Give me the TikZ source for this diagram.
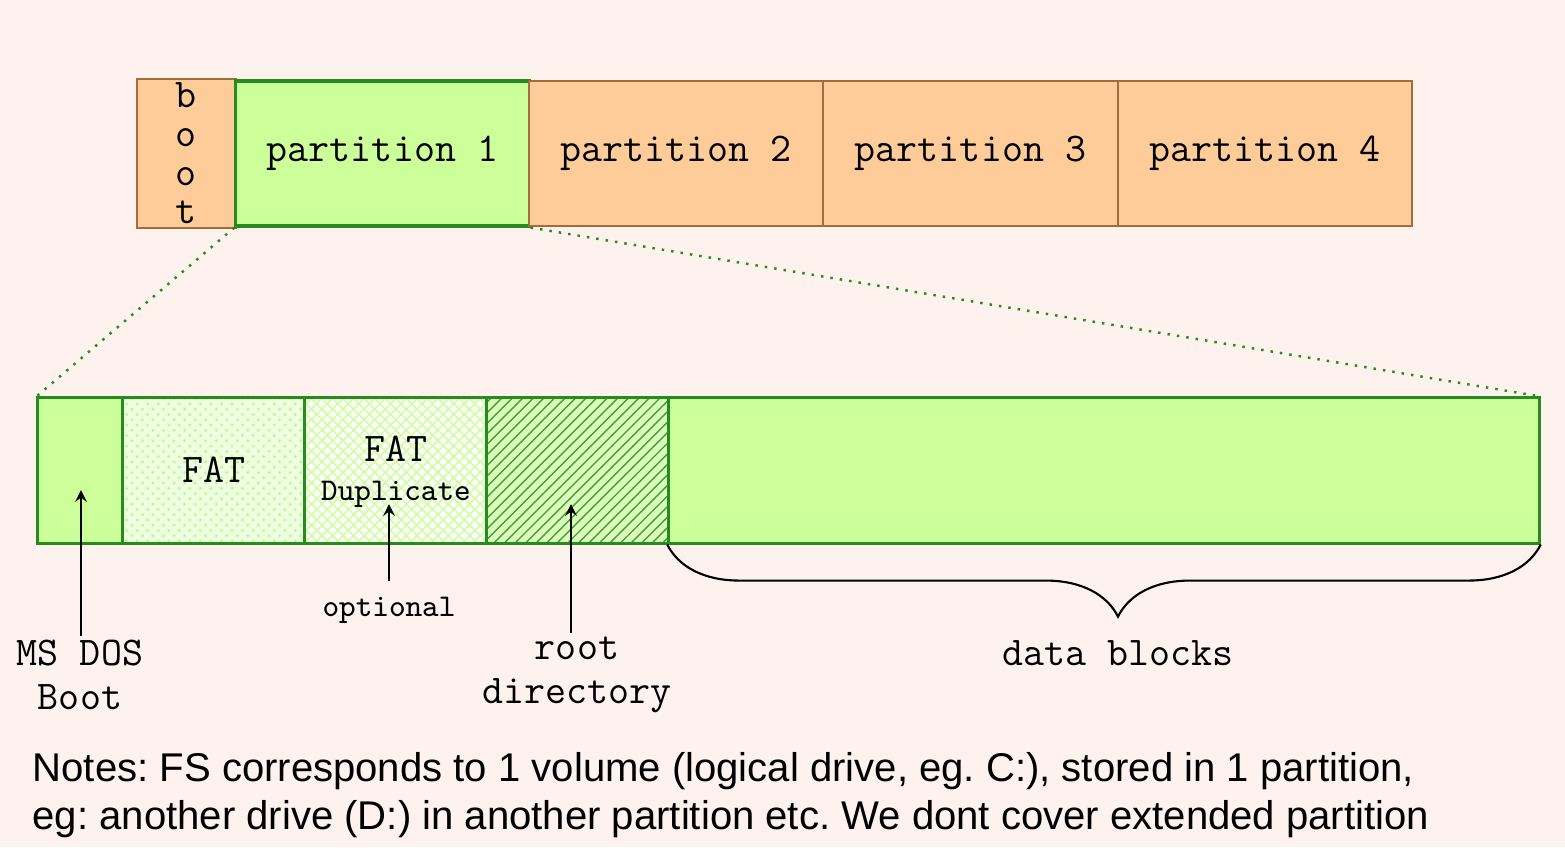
\documentclass[tikz,border=0pt]{standalone}
\usepackage{fontspec}
\setmainfont{Liberation Sans}
\usepackage{tikz}
\usetikzlibrary{arrows,patterns,decorations.pathreplacing}
\frenchspacing
\definecolor{bgpink}{RGB}{253,242,237}
\definecolor{partorange}{RGB}{254,204,153}
\definecolor{partbrown}{RGB}{160,110,62}
\definecolor{fsgreen}{RGB}{204,255,153}
\definecolor{fsdark}{RGB}{38,140,30}
\definecolor{fspale}{RGB}{240,255,228}
\tikzset{
every node/.style={font=\ttfamily\fontsize{11.6}{13}\selectfont, inner sep=1pt},
part/.style={rectangle, draw=partbrown, fill=partorange, line width=0.6pt, minimum height=1.45cm},
curpart/.style={part, draw=fsdark, fill=fsgreen, line width=0.9pt},
fsbox/.style={rectangle, draw=fsdark, fill=fsgreen, line width=0.85pt, minimum height=1.45cm},
lbl/.style={align=center, font=\ttfamily\fontsize{11.6}{12.5}\selectfont}
}

\begin{document}
\begin{tikzpicture}[x=0.01cm,y=-0.01cm]
\fill[bgpink] (0,0) rectangle (1565,847);

% disk with its partitions
\node [part, minimum width=0.99cm, align=center, font=\ttfamily\fontsize{11.6}{11}\selectfont] (boot) at (186.5,153.5) {b\\o\\o\\t};
\node [curpart, minimum width=2.93cm] (part1) at (382.5,153.5) {partition 1};
\node [part, minimum width=2.94cm] (part2) at (676,153.5) {partition 2};
\node [part, minimum width=2.95cm] (part3) at (970.5,153.5) {partition 3};
\node [part, minimum width=2.94cm] (part4) at (1265,153.5) {partition 4};

% file system inside partition 1
\node [fsbox, minimum width=0.85cm] (mbr) at (80.5,470.5) {};
\node [fsbox, minimum width=1.82cm, preaction={fill=fspale}, fill=none,
  pattern=crosshatch dots, pattern color=fsgreen!90!green] (fat) at (214,470.5) {};
\node [fsbox, minimum width=1.82cm, preaction={fill=white}, fill=none,
  pattern=crosshatch, pattern color=fsgreen] (fatdup) at (396,470.5) {};
\node [fsbox, minimum width=1.82cm, preaction={fill=fsgreen!70!white}, fill=none,
  pattern=north east lines, pattern color=fsdark!85] (rootdir) at (578,470.5) {};
\node [fsbox, minimum width=8.70cm] (data) at (1104,470.5) {};
\node (fatlbl) at (214,470) {FAT};
\node [align=center] (duplbl) at (396,472) {FAT\\[-2pt]{\fontsize{9}{10}\selectfont Duplicate}};

% zoom lines
\draw[fsdark, dotted, line width=0.7pt] (part1.south west) -- (mbr.north west);
\draw[fsdark, dotted, line width=0.7pt] (part1.south east) -- (data.north east);

% labels
\node [lbl] (msdos) at (80,675) {MS DOS\\Boot};
\node [lbl, font=\ttfamily\fontsize{9}{10}\selectfont] (optional) at (389,610) {optional};
\node [lbl] (rootlbl) at (577,675) {root\\directory};
\node [lbl] (datalbl) at (1118,653) {data blocks};

\coordinate (mbrtip) at (81,490);
\coordinate (duptip) at (389,504);
\coordinate (roottip) at (571,504);
\draw[-stealth, line width=0.5pt] ([xshift=0.01cm]msdos.north) -- (mbrtip);
\draw[-stealth, line width=0.5pt] ([yshift=0.12cm]optional.north) -- (duptip);
\draw[-stealth, line width=0.5pt] ([xshift=-0.06cm]rootlbl.north) -- (roottip);

\draw[line width=0.6pt, decorate, decoration={brace, mirror, amplitude=0.72cm, aspect=0.516}] (data.south west) -- (data.south east);

% notes
\node [anchor=north west, align=left, inner sep=0pt, font=\rmfamily\fontsize{11.4}{13.7}\selectfont] (notes) at (32,752)
  {Notes: FS corresponds to 1 volume (logical drive, eg. C:), stored in 1 partition,\\
   eg: another drive (D:) in another partition etc. We dont cover extended partition};
\end{tikzpicture}
\end{document}
